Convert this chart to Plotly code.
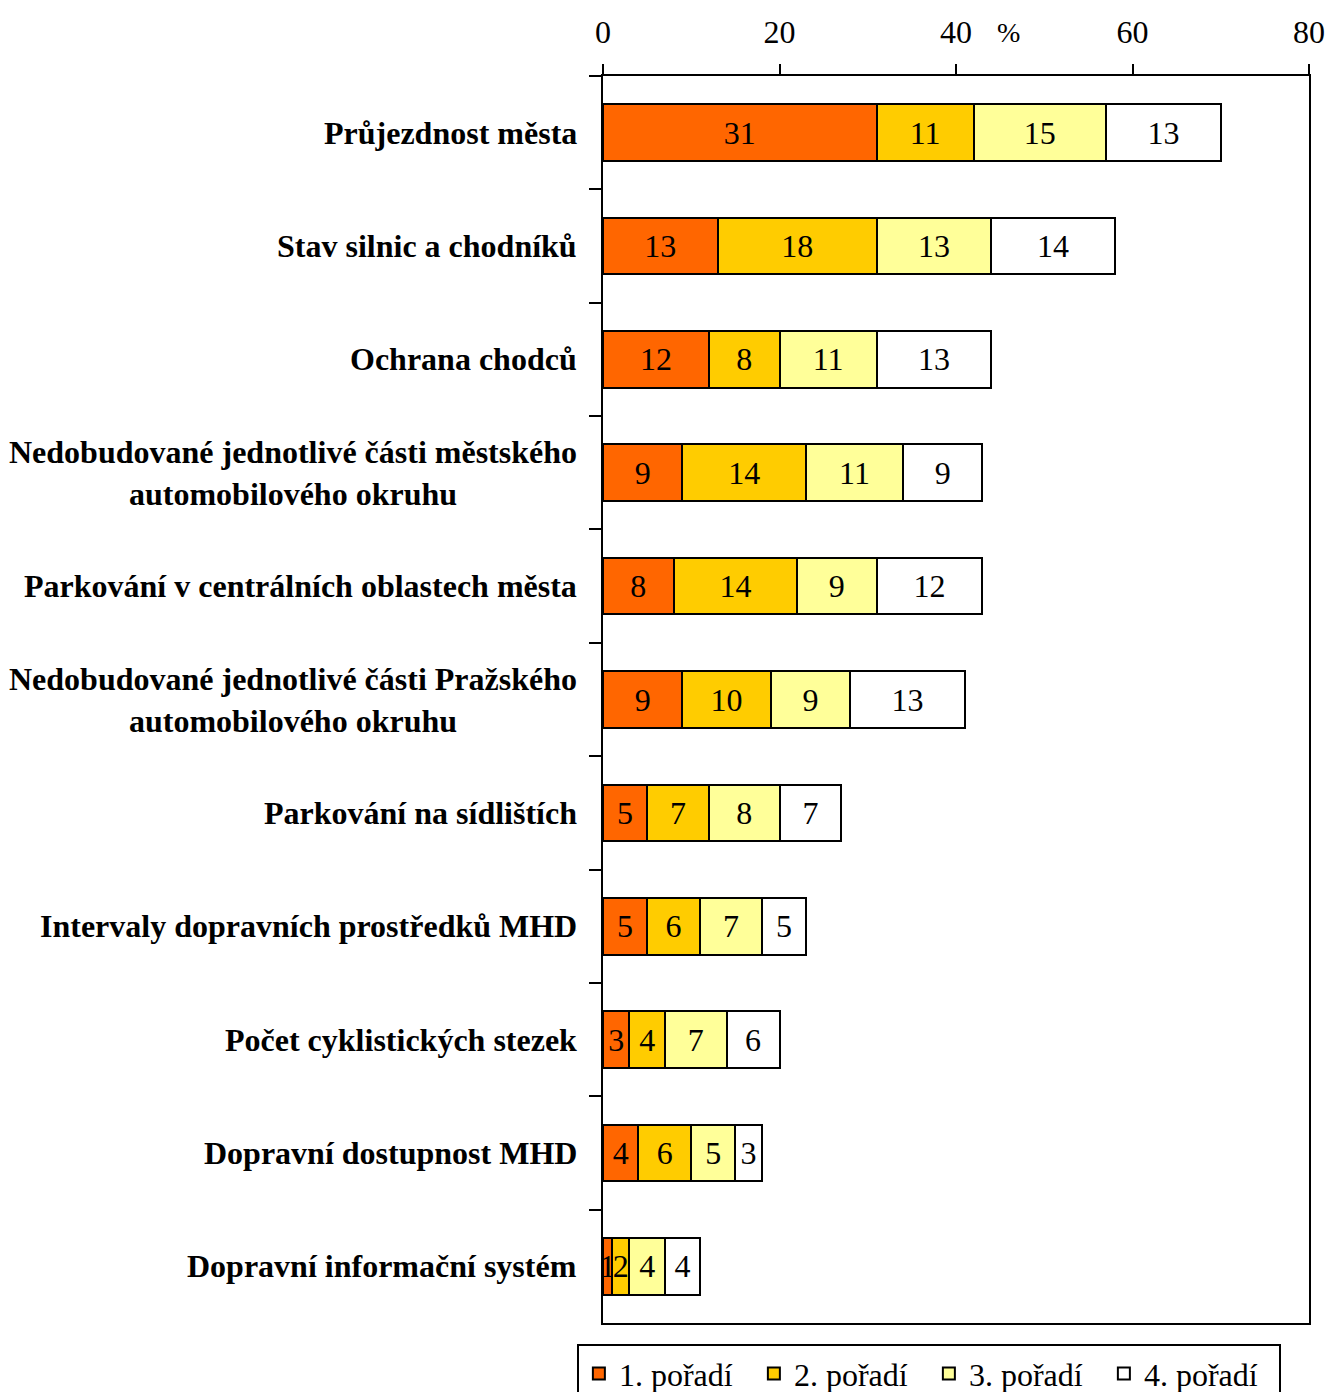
import plotly.graph_objects as go

categories = [
    "Průjezdnost města",
    "Stav silnic a chodníků",
    "Ochrana chodců",
    "Nedobudované jednotlivé části městského<br>automobilového okruhu",
    "Parkování v centrálních oblastech města",
    "Nedobudované jednotlivé části Pražského<br>automobilového okruhu",
    "Parkování na sídlištích",
    "Intervaly dopravních prostředků MHD",
    "Počet cyklistických stezek",
    "Dopravní dostupnost MHD",
    "Dopravní informační systém",
]
first = [31, 13, 12, 9, 8, 9, 5, 5, 3, 4, 1]
second = [11, 18, 8, 14, 14, 10, 7, 6, 4, 6, 2]
third = [15, 13, 11, 11, 9, 9, 8, 7, 7, 5, 4]
fourth = [13, 14, 13, 9, 12, 13, 7, 5, 6, 3, 4]
series_names = ["1. pořadí", "2. pořadí", "3. pořadí", "4. pořadí"]
series_values = [first, second, third, fourth]
colors = ["#FF6600", "#FFCC00", "#FFFF99", "#FFFFFF"]
x_ticks = [0, 20, 40, 60, 80]

FONT = "Liberation Serif, Times New Roman, serif"
FS = 32

fig = go.Figure()
for name, vals, col in zip(series_names, series_values, colors):
    fig.add_trace(go.Bar(
        y=categories, x=vals, name=name, orientation="h",
        marker=dict(color=col, line=dict(color="black", width=2)),
        width=0.5,
        text=[str(v) for v in vals],
        textposition="inside", insidetextanchor="middle",
        textfont=dict(family=FONT, size=FS, color="black"),
        constraintext="none", cliponaxis=False,
    ))

annotations = []
for cat in categories:
    annotations.append(dict(
        x=0, xref="paper", y=cat, yref="y", text="<b>" + cat + "</b>",
        showarrow=False, xanchor="right", yanchor="middle", align="center",
        xshift=-24, font=dict(family=FONT, size=FS, color="black"),
    ))
annotations.append(dict(
    x=0.575, xref="paper", y=1, yref="paper", yshift=44, text="%",
    showarrow=False, xanchor="center", yanchor="middle",
    font=dict(family=FONT, size=FS - 4, color="black"),
))

fig.update_layout(
    barmode="stack",
    width=1329, height=1392,
    margin=dict(l=603, r=20, t=76, b=69, autoexpand=False),
    paper_bgcolor="white", plot_bgcolor="white",
    font=dict(family=FONT, size=FS, color="black"),
    uniformtext=dict(minsize=FS, mode="show"),
    showlegend=True,
    legend=dict(
        orientation="h", x=-0.037, xanchor="left", y=-0.017, yanchor="top",
        bordercolor="black", borderwidth=2, bgcolor="white",
        font=dict(family=FONT, size=FS, color="black"),
        entrywidth=130, entrywidthmode="pixels",
        traceorder="normal", itemclick=False,
    ),
    xaxis=dict(
        side="top", range=[0, 80], tickvals=x_ticks,
        showline=True, linecolor="black", linewidth=2, mirror=True,
        ticks="outside", ticklen=10, tickwidth=2, tickcolor="black",
        ticklabelstandoff=8,
        showgrid=False, zeroline=False,
        tickfont=dict(family=FONT, size=FS, color="black"),
    ),
    yaxis=dict(
        type="category", categoryorder="array", categoryarray=categories,
        range=[10.5, -0.5],
        showline=True, linecolor="black", linewidth=2, mirror=True,
        ticks="outside", tickson="boundaries", ticklen=12, tickwidth=2,
        tickcolor="black", showticklabels=False, showgrid=False,
    ),
    annotations=annotations,
)

fig.write_html(
    "out.html",
    config={"displayModeBar": False},
    post_script="document.body.style.margin='0';document.body.style.overflow='hidden';",
)
